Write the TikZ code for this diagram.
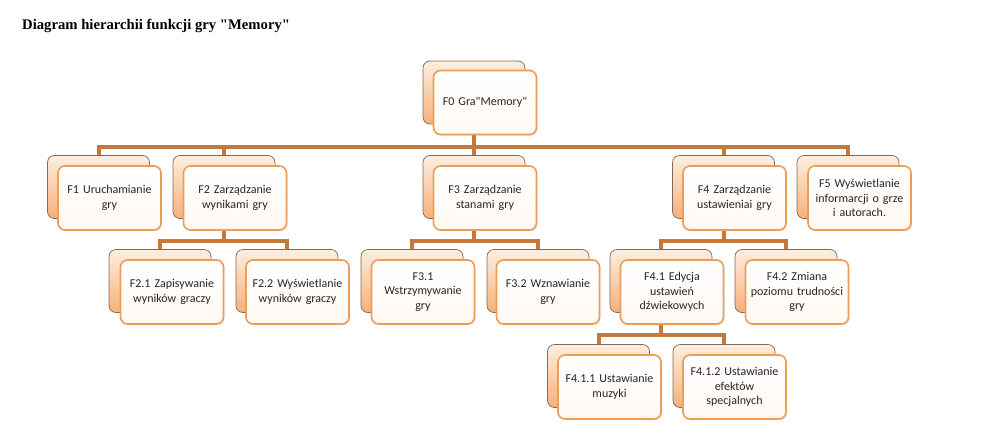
\documentclass[tikz,border=0pt]{standalone}
\usepackage{fontspec}
\newfontfamily\boxfont{Carlito}
\newfontfamily\titlefont{Liberation Serif}
\usetikzlibrary{backgrounds,shadows}
\pgfdeclarelayer{paper}
\pgfsetlayers{paper,background,main}
\definecolor{conncol}{RGB}{196,121,58}
\definecolor{frontdraw}{RGB}{236,158,88}
\definecolor{backdraw}{RGB}{125,105,95}
\definecolor{backtop}{RGB}{253,238,224}
\definecolor{backbot}{RGB}{247,176,120}
\definecolor{frontbot}{RGB}{255,249,242}
\begin{document}
\begin{tikzpicture}[x=1pt,y=-1pt,
  backbox/.style={rectangle, rounded corners=7pt, minimum width=102pt, minimum height=63pt,
    draw=backdraw, line width=0.7pt, top color=backtop, bottom color=backbot},
  frontbox/.style={rectangle, rounded corners=7pt, minimum width=103pt, minimum height=64pt,
    draw=frontdraw, line width=1.6pt, top color=white, bottom color=frontbot,
    drop shadow={opacity=0.18, shadow xshift=1.2pt, shadow yshift=-1.2pt},
    inner sep=2pt, text width=98pt, align=center, text=black!85,
    font=\boxfont\fontsize{12}{14.6}\selectfont},
  connector/.style={draw=conncol, line width=4pt},
  titlestyle/.style={anchor=base west, inner sep=0pt, font=\titlefont\bfseries\fontsize{14.67}{17}\selectfont}
]
\begin{pgfonlayer}{paper}
\fill[white] (0,0) rectangle (984,442);
\end{pgfonlayer}
\useasboundingbox (0,0) rectangle (984,442);

\node[titlestyle] (title) at (22,29) {Diagram hierarchii funkcji gry "Memory"};

% level 0
\node[backbox] (F0b) at (474,92.5) {};
\node[frontbox] (F0) at (485,102.5) {F0 Gra"Memory"};

% level 1
\node[backbox] (F1b) at (98.5,187) {};
\node[frontbox] (F1) at (109.5,198) {F1 Uruchamianie\\gry};
\node[backbox] (F2b) at (224,187) {};
\node[frontbox] (F2) at (235,198) {F2 Zarządzanie\\wynikami gry};
\node[backbox] (F3b) at (474,187) {};
\node[frontbox] (F3) at (485,198) {F3 Zarządzanie\\stanami gry};
\node[backbox] (F4b) at (723.5,187) {};
\node[frontbox] (F4) at (734.5,198) {F4 Zarządzanie\\ustawieniai gry};
\node[backbox] (F5b) at (848,187) {};
\node[frontbox] (F5) at (859.5,198) {F5 Wyświetlanie\\informarcji o grze\\i autorach.};

% level 2
\node[backbox] (F21b) at (160,281) {};
\node[frontbox] (F21) at (172,292) {F2.1 Zapisywanie\\wyników graczy};
\node[backbox] (F22b) at (287,281) {};
\node[frontbox] (F22) at (297.5,292) {F2.2 Wyświetlanie\\wyników graczy};
\node[backbox] (F31b) at (412,281) {};
\node[frontbox] (F31) at (423,292) {F3.1\\Wstrzymywanie\\gry};
\node[backbox] (F32b) at (538,281) {};
\node[frontbox] (F32) at (548,292) {F3.2 Wznawianie\\gry};
\node[backbox] (F41b) at (661,281) {};
\node[frontbox] (F41) at (672,292) {F4.1 Edycja\\ustawień\\dźwiekowych};
\node[backbox] (F42b) at (786,281) {};
\node[frontbox] (F42) at (797,292) {F4.2 Zmiana\\poziomu trudności\\gry};

% level 3
\node[backbox] (F411b) at (598.5,376) {};
\node[frontbox] (F411) at (609.5,387) {F4.1.1 Ustawianie\\muzyki};
\node[backbox] (F412b) at (724,376) {};
\node[frontbox] (F412) at (734.5,387) {F4.1.2 Ustawianie\\efektów\\specjalnych};

\coordinate (bar1) at (0,147);
\coordinate (bar2) at (0,241);
\coordinate (bar3) at (0,335);

\begin{scope}[on background layer]
  \foreach \c in {F1b,F2b,F3b,F4b,F5b}
    \draw[connector] (F0b.center) -- (F0b.center |- bar1) -| (\c.center);
  \foreach \c in {F21b,F22b}
    \draw[connector] (F2b.center) -- (F2b.center |- bar2) -| (\c.center);
  \foreach \c in {F31b,F32b}
    \draw[connector] (F3b.center) -- (F3b.center |- bar2) -| (\c.center);
  \foreach \c in {F41b,F42b}
    \draw[connector] (F4b.center) -- (F4b.center |- bar2) -| (\c.center);
  \foreach \c in {F411b,F412b}
    \draw[connector] (F41b.center) -- (F41b.center |- bar3) -| (\c.center);
\end{scope}
\end{tikzpicture}
\end{document}
